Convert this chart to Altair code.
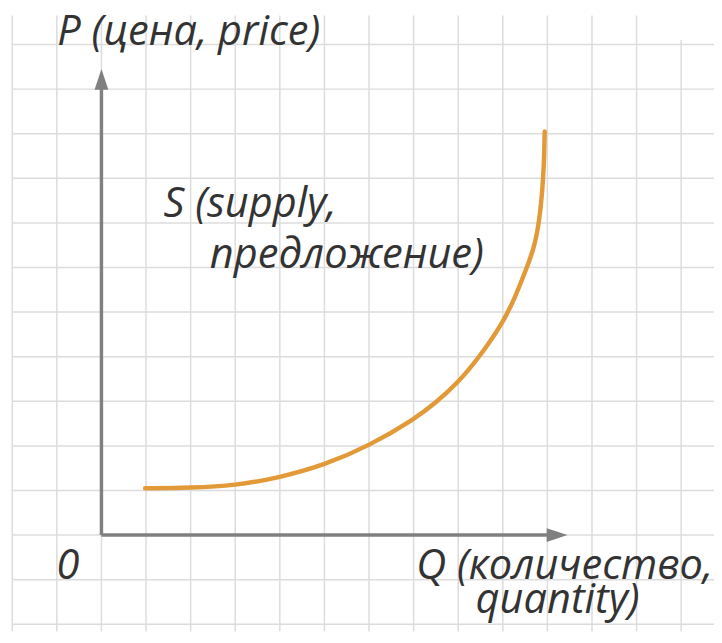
import altair as alt
import pandas as pd

# ---- data (in grid units: 1 unit = one grid cell, origin at the axes corner) ----
supply_q = [0.98, 2.0, 3.0, 4.0, 5.0, 6.0, 7.02, 7.51, 8.0, 8.48, 8.99, 9.26, 9.52, 9.69, 9.82, 9.91, 9.93, 9.94]
supply_p = [1.05, 1.06, 1.11, 1.29, 1.57, 2.0, 2.6, 2.98, 3.42, 4.0, 4.74, 5.29, 5.95, 6.4, 7.0, 7.99, 8.59, 9.05]

grid_q = list(range(-2, 14))
grid_p = list(range(-2, 12))

axis_len = 10.0

labels = ["P (цена, price)", "S (supply,", "предложение)", "0", "Q (количество,", "quantity)"]
label_q = [-0.99, 1.39, 2.43, -1.01, 7.06, 8.39]
label_p = [10.99, 7.13, 6.0, -0.99, -0.99, -1.74]

# ---- layout ----
W, H = 714, 627
UNIT = 45.1
ORIGIN_X, ORIGIN_Y = 94.5, 529.5   # origin position inside the plot area (px)
XMIN = -ORIGIN_X / UNIT
XMAX = (W - ORIGIN_X) / UNIT
YMAX = ORIGIN_Y / UNIT
YMIN = (ORIGIN_Y - H) / UNIT

xs = alt.Scale(domain=[XMIN, XMAX], nice=False, zero=False)
ys = alt.Scale(domain=[YMIN, YMAX], nice=False, zero=False)

GRID_COLOR = "#dcdcdc"
AXIS_COLOR = "#808080"
FONT = "Open Sans"

vgrid = pd.DataFrame({"q": grid_q, "p0": [YMIN] * len(grid_q),
                      "p1": [11.65] * (len(grid_q) - 1) + [11.10]})
hgrid = pd.DataFrame({"p": grid_p, "q0": [grid_q[0]] * len(grid_p), "q1": [XMAX] * len(grid_p)})

vlines = alt.Chart(vgrid).mark_rule(color=GRID_COLOR, strokeWidth=1.5).encode(
    x=alt.X("q:Q", scale=xs, axis=None),
    y=alt.Y("p0:Q", scale=ys, axis=None),
    y2="p1:Q",
)
hlines = alt.Chart(hgrid).mark_rule(color=GRID_COLOR, strokeWidth=1.5).encode(
    y=alt.Y("p:Q", scale=ys, axis=None),
    x=alt.X("q0:Q", scale=xs, axis=None),
    x2="q1:Q",
)

axes_df = pd.DataFrame({"q0": [0, 0], "p0": [0, 0], "q1": [0, axis_len + 0.05], "p1": [axis_len + 0.05, 0]})
axes = alt.Chart(axes_df).mark_rule(color=AXIS_COLOR, strokeWidth=3.5).encode(
    x=alt.X("q0:Q", scale=xs, axis=None),
    y=alt.Y("p0:Q", scale=ys, axis=None),
    x2="q1:Q",
    y2="p1:Q",
)

tip = 0.45
arrow_up = alt.Chart(pd.DataFrame({"q": [0], "p": [axis_len + tip]})).mark_point(
    shape="M0,0L0.667,2L-0.667,2Z", size=441, filled=True, opacity=1, color=AXIS_COLOR, strokeWidth=0
).encode(x=alt.X("q:Q", scale=xs, axis=None), y=alt.Y("p:Q", scale=ys, axis=None))
arrow_right = alt.Chart(pd.DataFrame({"q": [axis_len + tip], "p": [0]})).mark_point(
    shape="M0,0L-2,0.667L-2,-0.667Z", size=441, filled=True, opacity=1, color=AXIS_COLOR, strokeWidth=0
).encode(x=alt.X("q:Q", scale=xs, axis=None), y=alt.Y("p:Q", scale=ys, axis=None))

curve = alt.Chart(pd.DataFrame({"q": supply_q, "p": supply_p})).mark_line(
    color="#E29A38", strokeWidth=4.5, interpolate="basis", strokeCap="round"
).encode(
    x=alt.X("q:Q", scale=xs, axis=None),
    y=alt.Y("p:Q", scale=ys, axis=None),
    order=alt.Order("q:Q"),
)

texts = alt.Chart(pd.DataFrame({"t": labels, "q": label_q, "p": label_p})).mark_text(
    align="left", baseline="alphabetic", font=FONT, fontStyle="italic",
    fontSize=42, color="#333333"
).encode(
    x=alt.X("q:Q", scale=xs, axis=None),
    y=alt.Y("p:Q", scale=ys, axis=None),
    text="t:N",
)

chart = alt.layer(vlines, hlines, axes, arrow_up, arrow_right, curve, texts).properties(
    width=W, height=H, padding=0, autosize="none"
).configure_view(stroke=None)

chart.save("out.html", embed_options={"renderer": "svg", "actions": False})
